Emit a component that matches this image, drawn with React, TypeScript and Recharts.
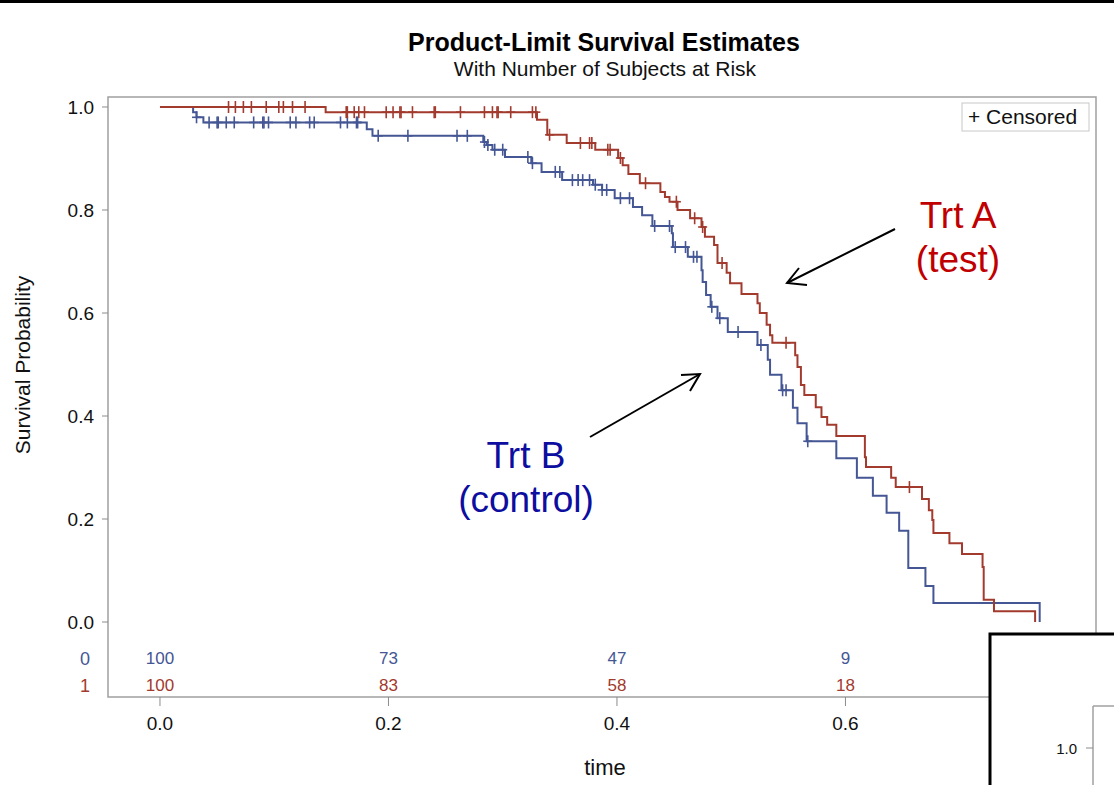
import { ComposedChart, Line, Scatter, XAxis, YAxis, ReferenceArea } from 'recharts'

// Kaplan-Meier step points (event times and survival after the step)
const trtBTimes = [0.029, 0.032, 0.038, 0.181, 0.186, 0.283, 0.286, 0.291, 0.302, 0.325, 0.334, 0.352, 0.379, 0.387, 0.398, 0.414, 0.422, 0.431, 0.448, 0.449, 0.462, 0.474, 0.475, 0.478, 0.482, 0.488, 0.497, 0.523, 0.532, 0.534, 0.544, 0.554, 0.558, 0.566, 0.592, 0.61, 0.624, 0.636, 0.647, 0.655, 0.67, 0.677, 0.77]
const trtBSurv = [0.99, 0.98, 0.97, 0.957, 0.944, 0.932, 0.926, 0.917, 0.903, 0.891, 0.874, 0.858, 0.849, 0.839, 0.823, 0.806, 0.79, 0.769, 0.755, 0.728, 0.709, 0.683, 0.66, 0.635, 0.612, 0.59, 0.563, 0.538, 0.509, 0.48, 0.45, 0.416, 0.386, 0.351, 0.318, 0.28, 0.245, 0.212, 0.177, 0.105, 0.07, 0.037, 0]

const trtATimes = [0.145, 0.33, 0.339, 0.356, 0.381, 0.401, 0.405, 0.41, 0.42, 0.438, 0.442, 0.446, 0.453, 0.464, 0.474, 0.477, 0.485, 0.488, 0.496, 0.499, 0.509, 0.523, 0.525, 0.531, 0.534, 0.536, 0.556, 0.558, 0.561, 0.564, 0.574, 0.579, 0.584, 0.592, 0.617, 0.618, 0.64, 0.644, 0.667, 0.673, 0.676, 0.677, 0.691, 0.702, 0.72, 0.721, 0.73, 0.766]
const trtASurv = [0.99, 0.975, 0.946, 0.93, 0.917, 0.901, 0.887, 0.87, 0.852, 0.835, 0.825, 0.816, 0.8, 0.784, 0.767, 0.748, 0.732, 0.697, 0.678, 0.658, 0.637, 0.619, 0.6, 0.577, 0.557, 0.542, 0.518, 0.495, 0.46, 0.441, 0.417, 0.398, 0.383, 0.361, 0.32, 0.301, 0.28, 0.262, 0.239, 0.217, 0.198, 0.173, 0.153, 0.132, 0.107, 0.043, 0.021, 0]

// censored observation times
const trtBCensored = [0.032, 0.043, 0.05, 0.051, 0.058, 0.065, 0.082, 0.09, 0.091, 0.095, 0.114, 0.119, 0.131, 0.135, 0.158, 0.164, 0.172, 0.173, 0.191, 0.217, 0.26, 0.269, 0.284, 0.287, 0.293, 0.3, 0.322, 0.326, 0.346, 0.35, 0.361, 0.366, 0.37, 0.376, 0.381, 0.387, 0.391, 0.403, 0.411, 0.433, 0.446, 0.451, 0.46, 0.467, 0.47, 0.483, 0.49, 0.506, 0.526, 0.545, 0.548, 0.567]
const trtACensored = [0.06, 0.066, 0.073, 0.08, 0.093, 0.104, 0.108, 0.116, 0.127, 0.163, 0.164, 0.17, 0.174, 0.179, 0.198, 0.204, 0.21, 0.211, 0.221, 0.24, 0.241, 0.263, 0.284, 0.291, 0.295, 0.296, 0.307, 0.326, 0.329, 0.341, 0.368, 0.376, 0.378, 0.392, 0.394, 0.403, 0.425, 0.452, 0.468, 0.475, 0.492, 0.548, 0.656]

// number at risk
const riskTimes = [0, 0.2, 0.4, 0.6]
const trtBAtRisk = [100, 73, 47, 9]
const trtAAtRisk = [100, 83, 58, 18]

const xTicks = [0, 0.2, 0.4, 0.6, 0.8]
const yTicks = [0, 0.2, 0.4, 0.6, 0.8, 1.0]

const BLUE = '#445694'
const RED = '#A23A2E'
const FONT = '"Liberation Sans", Arial, sans-serif'

const X_DOMAIN: [number, number] = [-0.0455, 0.8193]
const Y_DOMAIN: [number, number] = [-0.1456, 1.0194]

function levelAt(times: number[], surv: number[], t: number) {
  let s = 1
  times.forEach((tt, i) => {
    if (tt <= t) s = surv[i]
  })
  return s
}

const stepData = (times: number[], surv: number[]) => [
  { t: 0, s: 1 },
  ...times.map((t, i) => ({ t, s: surv[i] })),
]

const censorData = (cens: number[], times: number[], surv: number[]) =>
  cens.map((t) => ({ t, s: levelAt(times, surv, t) }))

const riskData = (counts: number[], row: number) =>
  riskTimes.map((t, i) => ({ t, s: row, n: counts[i] }))

const plusShape = (color: string) => (props: any) => {
  const { cx, cy } = props
  if (cx == null || cy == null) return <g />
  return (
    <g stroke={color} strokeWidth={1.6}>
      <line x1={cx} y1={cy - 6} x2={cx} y2={cy + 6} />
      <line x1={cx - 4.5} y1={cy} x2={cx + 4.5} y2={cy} />
    </g>
  )
}

const riskShape = (color: string) => (props: any) => {
  const { cx, cy, payload } = props
  return (
    <text
      x={cx}
      y={cy}
      textAnchor="middle"
      dominantBaseline="central"
      fontSize={17}
      fontFamily={FONT}
      fill={color}
    >
      {payload.n}
    </text>
  )
}

export default function App() {
  return (
    <div
      style={{
        position: 'absolute',
        left: 0,
        top: 0,
        width: 1114,
        height: 785,
        background: '#fff',
        overflow: 'hidden',
      }}
    >
      <ComposedChart
        width={1114}
        height={785}
        margin={{ top: 97, right: 18, left: 0, bottom: 0 }}
      >
        <XAxis
          type="number"
          dataKey="t"
          domain={X_DOMAIN}
          allowDataOverflow
          ticks={xTicks}
          tickFormatter={(v: number) => v.toFixed(1)}
          height={88}
          tickSize={9}
          tickMargin={11}
          axisLine={false}
          tickLine={{ stroke: '#8c8c8c' }}
          tick={{ fontSize: 19, fill: '#111', fontFamily: FONT }}
        />
        <YAxis
          type="number"
          dataKey="s"
          domain={Y_DOMAIN}
          allowDataOverflow
          ticks={yTicks}
          tickFormatter={(v: number) => v.toFixed(1)}
          width={108}
          tickSize={6}
          tickMargin={8}
          axisLine={false}
          tickLine={{ stroke: '#8c8c8c' }}
          tick={{ fontSize: 19, fill: '#111', fontFamily: FONT }}
        />
        <ReferenceArea
          x1={X_DOMAIN[0]}
          x2={X_DOMAIN[1]}
          y1={Y_DOMAIN[0]}
          y2={Y_DOMAIN[1]}
          fill="none"
          stroke="#a0a0a0"
          strokeWidth={1.5}
          ifOverflow="visible"
        />
        <Line
          data={stepData(trtBTimes, trtBSurv)}
          dataKey="s"
          type="stepAfter"
          stroke={BLUE}
          strokeWidth={2}
          dot={false}
          isAnimationActive={false}
        />
        <Line
          data={stepData(trtATimes, trtASurv)}
          dataKey="s"
          type="stepAfter"
          stroke={RED}
          strokeWidth={2}
          dot={false}
          isAnimationActive={false}
        />
        <Scatter
          data={censorData(trtBCensored, trtBTimes, trtBSurv)}
          dataKey="s"
          shape={plusShape(BLUE)}
          isAnimationActive={false}
        />
        <Scatter
          data={censorData(trtACensored, trtATimes, trtASurv)}
          dataKey="s"
          shape={plusShape(RED)}
          isAnimationActive={false}
        />
        <Scatter
          data={riskData(trtBAtRisk, -0.071)}
          dataKey="s"
          shape={riskShape(BLUE)}
          isAnimationActive={false}
        />
        <Scatter
          data={riskData(trtAAtRisk, -0.124)}
          dataKey="s"
          shape={riskShape(RED)}
          isAnimationActive={false}
        />
      </ComposedChart>

      <svg
        width={1114}
        height={785}
        style={{ position: 'absolute', left: 0, top: 0, pointerEvents: 'none' }}
        fontFamily={FONT}
      >
        <rect x={0} y={0} width={1114} height={3} fill="#000" />
        <text x={604} y={51} textAnchor="middle" fontSize={25} fontWeight="bold" fill="#000">
          Product-Limit Survival Estimates
        </text>
        <text x={605} y={76} textAnchor="middle" fontSize={21} fill="#111">
          With Number of Subjects at Risk
        </text>
        <text
          x={30}
          y={365}
          textAnchor="middle"
          fontSize={21}
          fill="#111"
          transform="rotate(-90, 30, 365)"
        >
          Survival Probability
        </text>
        <text x={605} y={775} textAnchor="middle" fontSize={22} fill="#111">
          time
        </text>
        <text x={85} y={659} textAnchor="middle" dominantBaseline="central" fontSize={18} fill={BLUE}>
          0
        </text>
        <text x={85} y={686} textAnchor="middle" dominantBaseline="central" fontSize={18} fill={RED}>
          1
        </text>

        {/* legend */}
        <rect x={962} y={103} width={127} height={28} fill="#fff" stroke="#c8c8c8" />
        <text x={968} y={124} fontSize={21} fill="#111">
          + Censored
        </text>

        {/* annotations */}
        <text x={958} y={228} textAnchor="middle" fontSize={37} fill="#C00000">
          Trt A
        </text>
        <text x={958} y={272} textAnchor="middle" fontSize={37} fill="#C00000">
          (test)
        </text>
        <line x1={895} y1={229} x2={787} y2={283} stroke="#000" strokeWidth={2} />
        <polyline points="807,285 787,283 799,268" fill="none" stroke="#000" strokeWidth={2} />

        <text x={526} y={468} textAnchor="middle" fontSize={37} fill="#0D0DA0">
          Trt B
        </text>
        <text x={526} y={512} textAnchor="middle" fontSize={37} fill="#0D0DA0">
          (control)
        </text>
        <line x1={590} y1={437} x2={700} y2={374} stroke="#000" strokeWidth={2} />
        <polyline points="681,375 700,374 690,391" fill="none" stroke="#000" strokeWidth={2} />

        {/* overlapping panel at bottom right */}
        <rect x={990} y={634} width={140} height={170} fill="#fff" stroke="#000" strokeWidth={3} />
        <line x1={1093} y1={706} x2={1093} y2={785} stroke="#a0a0a0" strokeWidth={1.5} />
        <line x1={1093} y1={706} x2={1114} y2={706} stroke="#a0a0a0" strokeWidth={1.5} />
        <line x1={1086} y1={748} x2={1093} y2={748} stroke="#8c8c8c" />
        <text x={1077} y={748} textAnchor="end" dominantBaseline="central" fontSize={15} fill="#111">
          1.0
        </text>
      </svg>
    </div>
  )
}
